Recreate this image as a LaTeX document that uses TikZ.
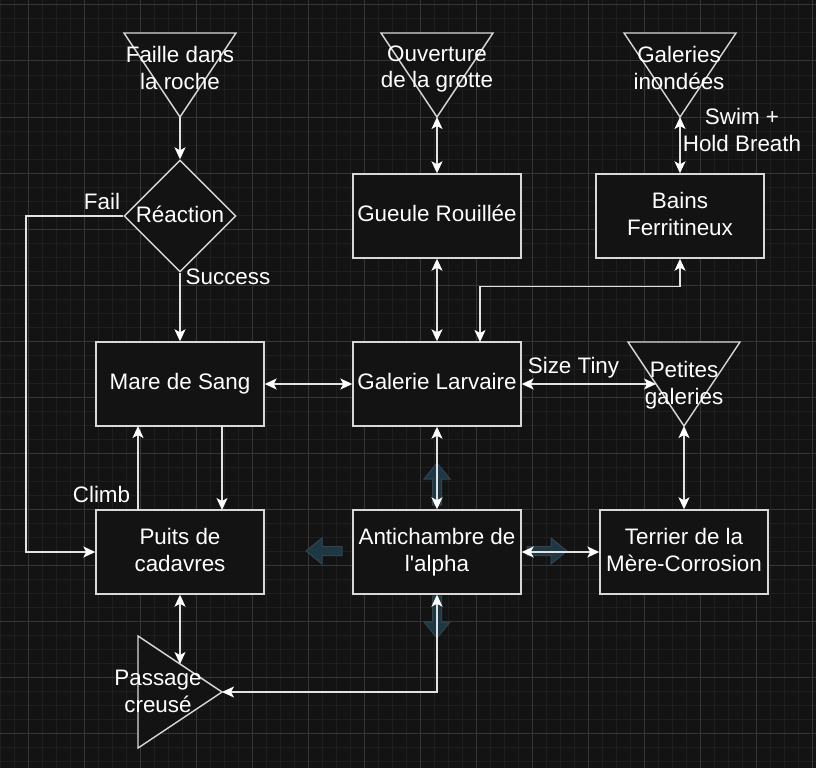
\documentclass[tikz,border=0pt]{standalone}
\usepackage{fontspec}
\setmainfont{Liberation Sans}
\usetikzlibrary{shapes.geometric,arrows.meta}
\definecolor{bgc}{HTML}{131313}
\definecolor{minorc}{HTML}{1E1E1E}
\definecolor{majorc}{HTML}{363636}
\definecolor{linec}{HTML}{E2E2E2}
\definecolor{boxc}{HTML}{D8D8D8}
\definecolor{hovf}{HTML}{1D3745}
\definecolor{hovd}{HTML}{34444F}
\newcommand\dfont{\fontsize{22.4}{27}\selectfont}
\newcommand\su{\rule{0pt}{16pt}}
\newcommand\sd{\rule[-5pt]{0pt}{5pt}}
\begin{document}
\begin{tikzpicture}[x=1pt,y=-1pt,
  >={Stealth[length=12pt,width=11pt,inset=3pt,color=white]},
  txt/.style={font=\dfont,text=white,align=center,inner sep=0pt},
  box/.style={txt,draw=boxc,fill=bgc,line width=1.4pt,minimum width=168pt,minimum height=84pt},
  dia/.style={draw=boxc,fill=bgc,line width=1.4pt,diamond,minimum width=112pt,minimum height=112pt,inner sep=0pt},
  tri/.style={draw=boxc,fill=bgc,line width=1.4pt,line join=miter},
  conn/.style={draw=linec,line width=1.4pt},
  hov/.style={fill=hovf,draw=hovd,line width=1pt},
  minorl/.style={draw=minorc,line width=1pt},
  majorl/.style={draw=majorc,line width=1pt}]
\useasboundingbox (0,0) rectangle (816,768);
\fill[bgc] (0,0) rectangle (816,768);
% grid
\foreach \x in {0,14,...,816} {\draw[minorl] (\x,0) -- (\x,768);}
\foreach \y in {5,19,...,768} {\draw[minorl] (0,\y) -- (816,\y);}
\foreach \x in {28,84,...,816} {\draw[majorl] (\x,0) -- (\x,768);}
\foreach \y in {5,61,...,768} {\draw[majorl] (0,\y) -- (816,\y);}

% hover arrows around Antichambre
\path[hov] (437,463) -- (450,479) -- (441.5,479) -- (441.5,505) -- (432.5,505) -- (432.5,479) -- (424,479) -- cycle;
\path[hov] (437,638) -- (450,622) -- (441.5,622) -- (441.5,596) -- (432.5,596) -- (432.5,622) -- (424,622) -- cycle;
\path[hov] (306,551) -- (322,538) -- (322,546.5) -- (342,546.5) -- (342,555.5) -- (322,555.5) -- (322,564) -- cycle;
\path[hov] (567,551) -- (551,538) -- (551,546.5) -- (527,546.5) -- (527,555.5) -- (551,555.5) -- (551,564) -- cycle;

% triangles
\coordinate (failleA) at (180,117);
\coordinate (ouvA) at (437,117);
\coordinate (inonA) at (680,117);
\coordinate (petA) at (684,426);
\coordinate (petL) at (656,384);
\coordinate (pasA) at (222,692);
\coordinate (pasT) at (180,664);
\draw[tri] (124,33) -- (236,33) -- (failleA) -- cycle;
\draw[tri] (381,33) -- (493,33) -- (ouvA) -- cycle;
\draw[tri] (624,33) -- (736,33) -- (inonA) -- cycle;
\draw[tri] (628,342) -- (740,342) -- (petA) -- cycle;
\draw[tri] (138,636) -- (138,748) -- (pasA) -- cycle;
\node[txt] (failleT) at (180,70) {\su Faille dans\\la roche\sd};
\node[txt] (ouvT) at (437,69) {\su Ouverture\\de la grotte\sd};
\node[txt] (inonT) at (679,70) {\su Galeries\\inondées\sd};
\node[txt] (petT) at (684,385) {\su Petites\\galeries\sd};
\node[txt] (pasTx) at (158,693) {\su Passage\\creusé\sd};

% diamond
\node[dia] (reac) at (180,216) {};
\node[txt] (reacT) at (180,216.5) {\su Réaction\sd};

% boxes
\node[box] (mare) at (180,384) {\su Mare de Sang\sd};
\node[box] (larv) at (437,384) {\su Galerie Larvaire\sd};
\node[box] (gueule) at (437,216) {\su Gueule Rouillée\sd};
\node[box] (bains) at (680,216) {\su Bains\\Ferritineux\sd};
\node[box] (puits) at (180,552) {\su Puits de\\cadavres\sd};
\node[box] (anti) at (437,552) {\su Antichambre de\\l\textquotesingle alpha\sd};
\node[box] (terrier) at (684,552) {\su Terrier de la\\Mère-Corrosion\sd};

% helper points on box edges
\coordinate (fc) at (26,216);
\coordinate (larvB) at (480,342);
\coordinate (mareR) at (222,426);
\coordinate (puitsR) at (222,510);
\coordinate (mareL) at (138,426);
\coordinate (puitsL) at (138,510);

% connectors
\draw[conn,->] (failleA) -- (reac.north);
\draw[conn,->] (reac.west) -- (fc) |- (puits.west);
\draw[conn,->] (reac.south) -- (mare.north);
\draw[conn,<->] (ouvA) -- (gueule.north);
\draw[conn,<->] (gueule.south) -- (larv.north);
\draw[conn,<->] (bains.south) -- ++(0,28) -| (larvB);
\draw[conn,<->] (inonA) -- (bains.north);
\draw[conn,<->] (mare.east) -- (larv.west);
\draw[conn,<->] (larv.east) -- (petL);
\draw[conn,<->] (petA) -- (terrier.north);
\draw[conn,<->] (larv.south) -- (anti.north);
\draw[conn,<->] (anti.east) -- (terrier.west);
\draw[conn,<->] (anti.south) |- (pasA);
\draw[conn,<->] (puits.south) -- (pasT);
\draw[conn,->] (mareR) -- (puitsR);
\draw[conn,->] (puitsL) -- (mareL);

% edge labels
\node[txt] (failL) at (102,203.5) {\su Fail\sd};
\node[txt] (succL) at (228,278.5) {\su Success\sd};
\node[txt] (climbL) at (101.5,496.5) {\su Climb\sd};
\node[txt] (tinyL) at (573.5,367.5) {\su Size Tiny\sd};
\node[txt] (swimL) at (742,132) {\su Swim +\\Hold Breath\sd};
\end{tikzpicture}
\end{document}
